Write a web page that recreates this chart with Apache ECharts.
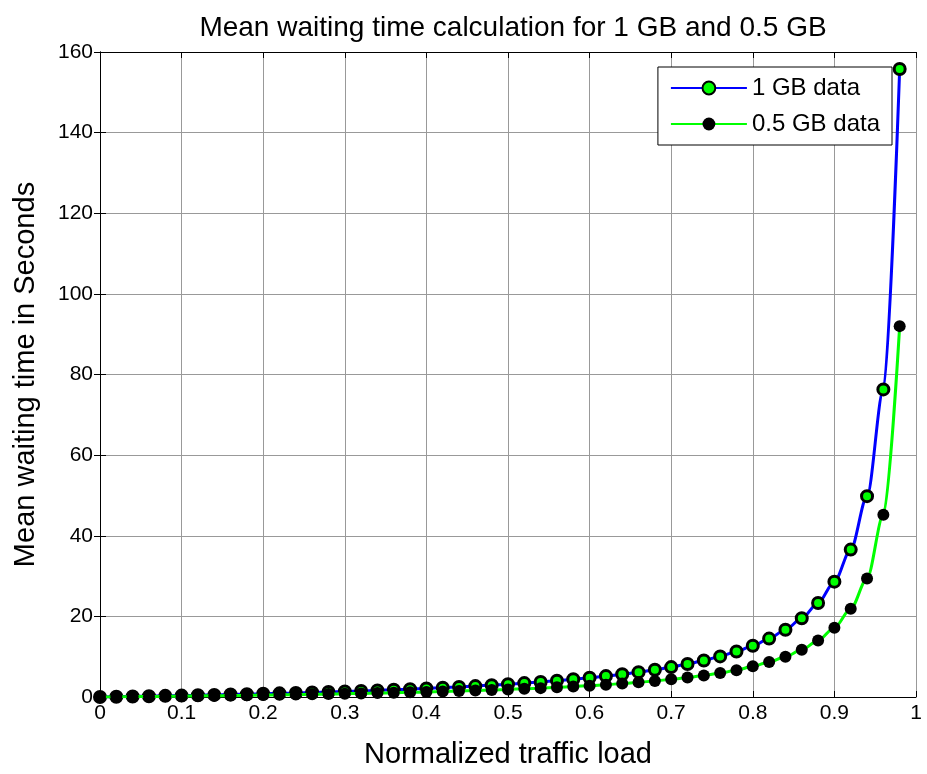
<!DOCTYPE html>
<html>
<head>
<meta charset="utf-8">
<script src="https://cdn.jsdelivr.net/npm/echarts@6/dist/echarts.min.js"></script>
<style>
  html, body { margin: 0; padding: 0; background: #fff; }
  #chart { width: 927px; height: 774px; }
</style>
</head>
<body>
<div id="chart"></div>
<script>
var load = [0, 0.02, 0.04, 0.06, 0.08, 0.1, 0.12, 0.14, 0.16, 0.18,
  0.2, 0.22, 0.24, 0.26, 0.28, 0.3, 0.32, 0.34, 0.36, 0.38,
  0.4, 0.42, 0.44, 0.46, 0.48, 0.5, 0.52, 0.54, 0.56, 0.58,
  0.6, 0.62, 0.64, 0.66, 0.68, 0.7, 0.72, 0.74, 0.76, 0.78,
  0.8, 0.82, 0.84, 0.86, 0.88, 0.9, 0.92, 0.94, 0.96, 0.98];
var gb1 = [0, 0.07, 0.13, 0.2, 0.28, 0.35, 0.43, 0.52, 0.61, 0.7,
  0.8, 0.9, 1.0, 1.12, 1.24, 1.36, 1.5, 1.64, 1.79, 1.95,
  2.12, 2.3, 2.5, 2.71, 2.94, 3.18, 3.45, 3.73, 4.05, 4.39,
  4.77, 5.19, 5.65, 6.17, 6.76, 7.42, 8.18, 9.05, 10.07, 11.27,
  12.72, 14.49, 16.7, 19.53, 23.32, 28.62, 36.57, 49.82, 76.3, 155.8];
var gb05 = [0, 0.04, 0.08, 0.12, 0.16, 0.21, 0.26, 0.31, 0.36, 0.41,
  0.47, 0.53, 0.59, 0.66, 0.73, 0.81, 0.88, 0.97, 1.06, 1.15,
  1.25, 1.36, 1.47, 1.6, 1.73, 1.88, 2.03, 2.2, 2.39, 2.59,
  2.81, 3.06, 3.33, 3.64, 3.99, 4.38, 4.83, 5.34, 5.94, 6.65,
  7.6, 8.7, 10.0, 11.7, 14.0, 17.2, 21.9, 29.4, 45.2, 92.0];
var seriesNames = ['1 GB data', '0.5 GB data'];

var font = 'Liberation Sans, Arial, sans-serif';

function pairs(ys) {
  return load.map(function (x, i) {
    return [x, ys[i]];
  });
}

var tickStyle = { show: true, inside: true, length: 6, lineStyle: { color: '#000', width: 1 } };

echarts.init(document.getElementById('chart'), null, { renderer: 'canvas' }).setOption({
  animation: false,
  backgroundColor: '#fff',
  title: {
    text: 'Mean waiting time calculation for 1 GB and 0.5 GB',
    left: 508,
    top: 9,
    textAlign: 'center',
    textStyle: { fontFamily: font, fontSize: 28, fontWeight: 'normal', color: '#000' }
  },
  grid: { left: 100, right: 11, top: 52, bottom: 74 },
  legend: {
    orient: 'vertical',
    right: 35,
    top: 67,
    padding: [9, 12, 9, 12],
    itemGap: 12,
    itemWidth: 76,
    itemHeight: 16,
    backgroundColor: '#fff',
    borderColor: '#000',
    borderWidth: 1,
    borderRadius: 0,
    textStyle: { fontFamily: font, fontSize: 24, color: '#000' },
    data: seriesNames
  },
  xAxis: [{
    type: 'value',
    min: 0,
    max: 1,
    interval: 0.1,
    name: 'Normalized traffic load',
    nameLocation: 'middle',
    nameGap: 43,
    nameTextStyle: { fontFamily: font, fontSize: 29, color: '#000' },
    axisLine: { show: true, onZero: false, lineStyle: { color: '#000', width: 1 } },
    axisTick: tickStyle,
    axisLabel: { fontFamily: font, fontSize: 21, color: '#000', margin: 6 },
    splitLine: { show: true, lineStyle: { color: '#999', width: 1 } }
  }, {
    type: 'value',
    position: 'top',
    min: 0,
    max: 1,
    interval: 0.1,
    axisLine: { show: true, onZero: false, lineStyle: { color: '#000', width: 1 } },
    axisTick: tickStyle,
    axisLabel: { show: false },
    splitLine: { show: false }
  }],
  yAxis: [{
    type: 'value',
    min: 0,
    max: 160,
    interval: 20,
    name: 'Mean waiting time in Seconds',
    nameLocation: 'middle',
    nameGap: 60,
    nameTextStyle: { fontFamily: font, fontSize: 29, color: '#000' },
    axisLine: { show: true, lineStyle: { color: '#000', width: 1 } },
    axisTick: tickStyle,
    axisLabel: { fontFamily: font, fontSize: 21, color: '#000', margin: 7 },
    splitLine: { show: true, lineStyle: { color: '#999', width: 1 } }
  }, {
    type: 'value',
    position: 'right',
    min: 0,
    max: 160,
    interval: 20,
    axisLine: { show: true, lineStyle: { color: '#000', width: 1 } },
    axisTick: tickStyle,
    axisLabel: { show: false },
    splitLine: { show: false }
  }],
  series: [{
    name: seriesNames[0],
    type: 'line',
    data: pairs(gb1),
    smooth: 0.3,
    smoothMonotone: 'x',
    symbol: 'circle',
    symbolSize: 11,
    lineStyle: { color: '#0000ff', width: 3 },
    itemStyle: { color: '#00ff00', borderColor: '#000', borderWidth: 3 },
    z: 2
  }, {
    name: seriesNames[1],
    type: 'line',
    data: pairs(gb05),
    smooth: 0.3,
    smoothMonotone: 'x',
    symbol: 'circle',
    symbolSize: 12,
    lineStyle: { color: '#00ff00', width: 3 },
    itemStyle: { color: '#000', borderColor: '#000', borderWidth: 0 },
    z: 3
  }]
});
</script>
</body>
</html>
